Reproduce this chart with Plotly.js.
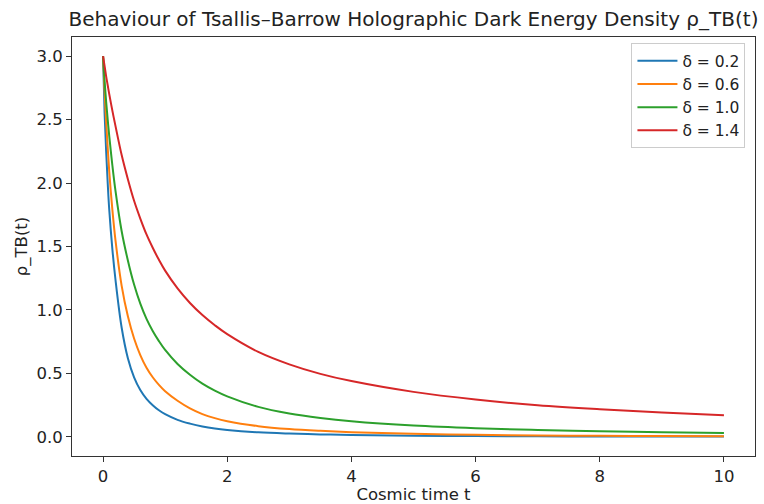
<!DOCTYPE html>
<html>
<head>
<meta charset="utf-8">
<script src="https://cdn.plot.ly/plotly-3.0.1.min.js"></script>
<style>html,body{margin:0;padding:0;background:#fff;}#chart{width:764px;height:504px;}</style>
</head>
<body>
<div id="chart"></div>
<script>
// Cosmic time grid
const t = [0, 0.025, 0.05, 0.075, 0.1, 0.15, 0.2, 0.3, 0.4, 0.5, 0.6, 0.7, 0.8, 0.9, 1.0, 1.2, 1.4, 1.6, 1.8, 2.0, 2.5, 3, 3.5, 4, 5, 6, 7, 8, 9, 10];

// rho_TB(t) values for each delta
const rho02 = [3.0, 2.55, 2.25, 2.00, 1.79, 1.48, 1.24, 0.86, 0.62, 0.47, 0.37, 0.30, 0.25, 0.21, 0.18, 0.135, 0.105, 0.082, 0.066, 0.055, 0.037, 0.027, 0.020, 0.016, 0.010, 0.007, 0.005, 0.004, 0.003, 0.0026];
const rho06 = [3.0, 2.72, 2.48, 2.28, 2.09, 1.79, 1.55, 1.19, 0.95, 0.775, 0.645, 0.545, 0.47, 0.41, 0.36, 0.285, 0.225, 0.18, 0.148, 0.124, 0.085, 0.062, 0.048, 0.038, 0.025, 0.017, 0.012, 0.009, 0.007, 0.0055];
const rho10 = [3.0, 2.80, 2.64, 2.50, 2.37, 2.14, 1.94, 1.62, 1.39, 1.20, 1.05, 0.93, 0.835, 0.755, 0.685, 0.575, 0.49, 0.42, 0.365, 0.32, 0.237, 0.185, 0.15, 0.124, 0.09, 0.069, 0.055, 0.045, 0.037, 0.032];
const rho14 = [3.0, 2.92, 2.84, 2.77, 2.70, 2.57, 2.45, 2.22, 2.03, 1.86, 1.72, 1.595, 1.49, 1.395, 1.31, 1.17, 1.055, 0.96, 0.88, 0.81, 0.67, 0.572, 0.497, 0.44, 0.355, 0.295, 0.25, 0.218, 0.192, 0.17];

const seriesNames = ["δ = 0.2", "δ = 0.6", "δ = 1.0", "δ = 1.4"];
const seriesData = [rho02, rho06, rho10, rho14];
const colors = ["#1f77b4", "#ff7f0e", "#2ca02c", "#d62728"];

const xTicks = [0, 2, 4, 6, 8, 10];
const yTicks = [0.0, 0.5, 1.0, 1.5, 2.0, 2.5, 3.0];
const yTickText = ["0.0", "0.5", "1.0", "1.5", "2.0", "2.5", "3.0"];

const traces = seriesData.map((y, i) => ({
  x: t, y: y, type: "scatter", mode: "lines", name: seriesNames[i],
  line: {color: colors[i], width: 2, shape: "spline", smoothing: 1}
}));

const font = "DejaVu Sans, sans-serif";
const layout = {
  width: 764, height: 504,
  margin: {l: 72, r: 9, t: 37, b: 48},
  paper_bgcolor: "#fff", plot_bgcolor: "#fff",
  font: {family: font, size: 16, color: "#222"},
  title: {text: "Behaviour of Tsallis–Barrow Holographic Dark Energy Density ρ_TB(t)",
          font: {family: font, size: 20, color: "#222"},
          x: 0.5, xref: "paper", y: 1 - 19/504, yref: "container", yanchor: "middle"},
  xaxis: {range: [-0.5, 10.5], tickvals: xTicks, ticktext: xTicks.map(String),
          showgrid: false, zeroline: false, showline: true, mirror: true,
          linecolor: "#333", linewidth: 1, ticks: "outside", ticklen: 5, tickcolor: "#333",
          tickfont: {family: font, size: 16.5, color: "#222"},
          title: {text: "Cosmic time t", font: {family: font, size: 16.5, color: "#222"}, standoff: 2}},
  yaxis: {range: [-0.15, 3.15], tickvals: yTicks, ticktext: yTickText,
          showgrid: false, zeroline: false, showline: true, mirror: true,
          linecolor: "#333", linewidth: 1, ticks: "outside", ticklen: 5, tickcolor: "#333",
          tickfont: {family: font, size: 16.5, color: "#222"},
          title: {text: "ρ_TB(t)", font: {family: font, size: 16.5, color: "#222"}, standoff: 4}},
  legend: {x: 0.986, xanchor: "right", y: 0.985, yanchor: "top",
           bgcolor: "rgba(255,255,255,0.8)", bordercolor: "#cccccc", borderwidth: 1,
           font: {family: font, size: 15.5, color: "#222"}, tracegroupgap: 0, itemwidth: 40}
};

Plotly.newPlot("chart", traces, layout, {displayModeBar: false, staticPlot: true});
</script>
</body>
</html>
